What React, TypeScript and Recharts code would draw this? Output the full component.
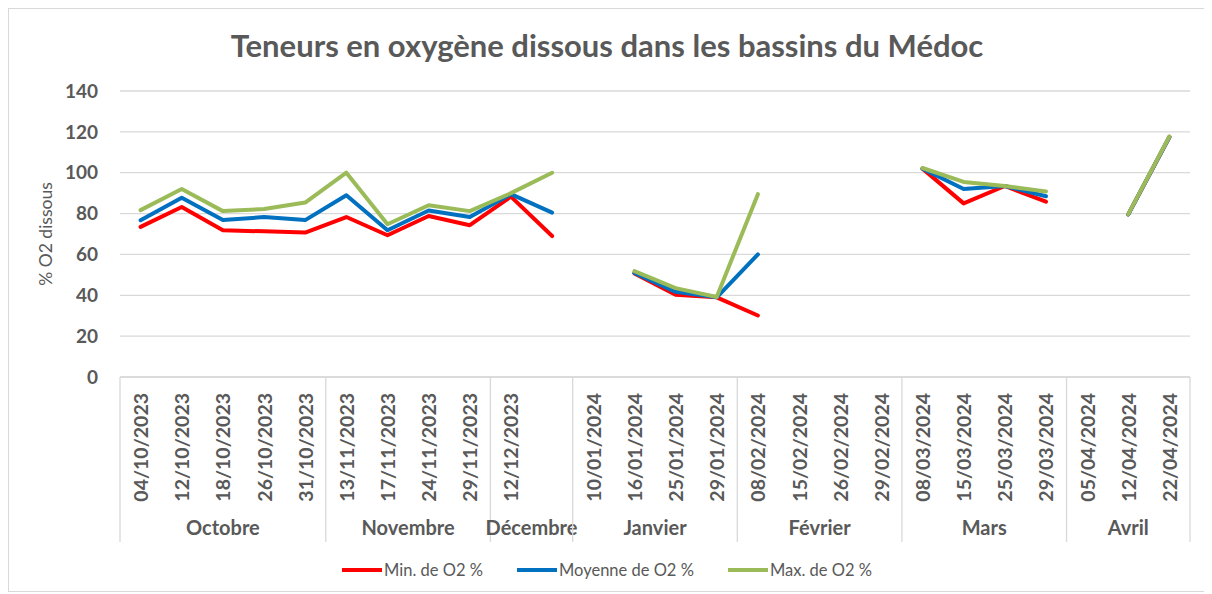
import { CartesianGrid, Legend, Line, LineChart, XAxis, YAxis } from "recharts";

const DATES = [
    "04/10/2023", "12/10/2023", "18/10/2023", "26/10/2023", "31/10/2023",
    "13/11/2023", "17/11/2023", "24/11/2023", "29/11/2023",
    "12/12/2023", "",
    "10/01/2024", "16/01/2024", "25/01/2024", "29/01/2024",
    "08/02/2024", "15/02/2024", "26/02/2024", "29/02/2024",
    "08/03/2024", "15/03/2024", "25/03/2024", "29/03/2024",
    "05/04/2024", "12/04/2024", "22/04/2024",
];
const MONTHS = ["Octobre", "Novembre", "Décembre", "Janvier", "Février", "Mars", "Avril"];
const MONTH_SIZES = [5, 4, 2, 4, 4, 4, 3]; // number of dates under each month

const MIN_O2 = [73.5, 83.2, 71.8, 71.3, 70.7, 78.3, 69.4, 78.8, 74.3, 88.3, 69, null, 50.7, 40.3, 39, 30.1, null, null, null, 102, 85, 93.5, 85.8, null, 79.6, 117.5];
const MOY_O2 = [76.7, 87.7, 76.8, 78.3, 76.8, 89, 71.8, 81.5, 78.3, 89.5, 80.5, null, 51, 41.7, 39, 60, null, null, null, 102, 92, 93.5, 88.5, null, 79.6, 117.5];
const MAX_O2 = [81.7, 92, 81.2, 82.2, 85.4, 100, 74.8, 84.1, 81.2, 90, 100, null, 51.8, 43.5, 39.2, 89.5, null, null, null, 102.3, 95.5, 93.5, 90.8, null, 79.7, 117.7];
const Y_TICKS = [0, 20, 40, 60, 80, 100, 120, 140];

const SERIES = [
    { key: "min", name: "Min. de O2 %", color: "#FF0000" },
    { key: "moy", name: "Moyenne de O2 %", color: "#0070C0" },
    { key: "max", name: "Max. de O2 %", color: "#9BBB59" },
];

const data = DATES.map((date, i) => ({
    cat: `c${i}`,
    date,
    min: MIN_O2[i],
    moy: MOY_O2[i],
    max: MAX_O2[i],
}));

const FONT = "Lato, 'Open Sans', sans-serif";
const TEXT = "#595959";
const GRID = "#d9d9d9";

const CHART_W = 1196;
const CHART_H = 582;
const MARGIN = { top: 82, right: 15, bottom: 0, left: 36 };
const YAXIS_W = 75;
const PLOT_W = CHART_W - MARGIN.left - MARGIN.right - YAXIS_W;
const BAND = PLOT_W / DATES.length;

// month group starts, derived from sizes
const GROUP_STARTS = MONTH_SIZES.reduce<number[]>((acc, _s, i) => {
    acc.push(i === 0 ? 0 : acc[i - 1] + MONTH_SIZES[i - 1]);
    return acc;
}, []);

function DateTick(props: any) {
    const { x, y, index } = props;
    const groupIdx = GROUP_STARTS.indexOf(index);
    return <g>
        <text transform={`translate(${x},${y + 16}) rotate(-90)`} textAnchor="end" dominantBaseline="central"
            fill={TEXT} fontFamily={FONT} fontWeight={700} fontSize={19.5}>{DATES[index]}</text>
        {groupIdx >= 0 && <>
            <line x1={x - BAND / 2} x2={x - BAND / 2} y1={y} y2={y + 165} stroke={GRID} strokeWidth={1.3} />
            <text x={x - BAND / 2 + MONTH_SIZES[groupIdx] * BAND / 2} y={y + 150} textAnchor="middle"
                dominantBaseline="central" fill={TEXT} fontFamily={FONT} fontWeight={700} fontSize={20}>{MONTHS[groupIdx]}</text>
        </>}
        {index === DATES.length - 1 &&
            <line x1={x + BAND / 2} x2={x + BAND / 2} y1={y} y2={y + 165} stroke={GRID} strokeWidth={1.3} />}
    </g>
}

function LegendContent() {
    return <div style={{ height: 42, display: "flex", justifyContent: "center", alignItems: "center", gap: 34 }}>
        {SERIES.map((s) => <div key={s.key} style={{ display: "flex", alignItems: "center" }}>
            <div style={{ width: 40, height: 4, background: s.color, marginRight: 2 }} />
            <span style={{ fontFamily: FONT, fontSize: 16.5, color: TEXT }}>{s.name}</span>
        </div>)}
    </div>
}

function YLabel(props: any) {
    const { viewBox } = props;
    const cx = viewBox.x;
    const cy = viewBox.y + viewBox.height / 2;
    return <text transform={`translate(${cx},${cy}) rotate(-90)`} textAnchor="middle" dominantBaseline="central"
        fill={TEXT} fontFamily={FONT} fontSize={17.5}>% O2 dissous</text>
}

export default function App() {
    return <div style={{ position: "relative", width: CHART_W, height: CHART_H, border: `1px solid ${GRID}`, background: "#fff" }}>
        <div style={{ position: "absolute", top: 17, left: 0, width: CHART_W, textAlign: "center", fontFamily: FONT,
            fontWeight: 700, fontSize: 31, color: TEXT }}>
            Teneurs en oxygène dissous dans les bassins du Médoc
        </div>
        <LineChart width={CHART_W} height={CHART_H} data={data} margin={MARGIN}>
            <CartesianGrid vertical={false} stroke={GRID} strokeWidth={1.3} />
            <XAxis dataKey="cat" interval={0} height={172} tickSize={0} tickMargin={0} tickLine={false}
                padding={{ left: BAND / 2, right: BAND / 2 }}
                axisLine={{ stroke: GRID, strokeWidth: 1.3 }} tick={<DateTick />} />
            <YAxis domain={[0, 140]} ticks={Y_TICKS} width={YAXIS_W} axisLine={false} tickLine={false}
                tickSize={0} tickMargin={22}
                tick={{ fill: TEXT, fontFamily: FONT, fontWeight: 700, fontSize: 19 }}
                label={{ content: <YLabel /> }} />
            <Legend verticalAlign="bottom" content={<LegendContent />} wrapperStyle={{ left: 0, width: CHART_W }} />
            {SERIES.map((s) => <Line key={s.key} dataKey={s.key} name={s.name} stroke={s.color} strokeWidth={4}
                dot={false} activeDot={false} isAnimationActive={false} strokeLinejoin="round" strokeLinecap="round" />)}
        </LineChart>
    </div>
}
